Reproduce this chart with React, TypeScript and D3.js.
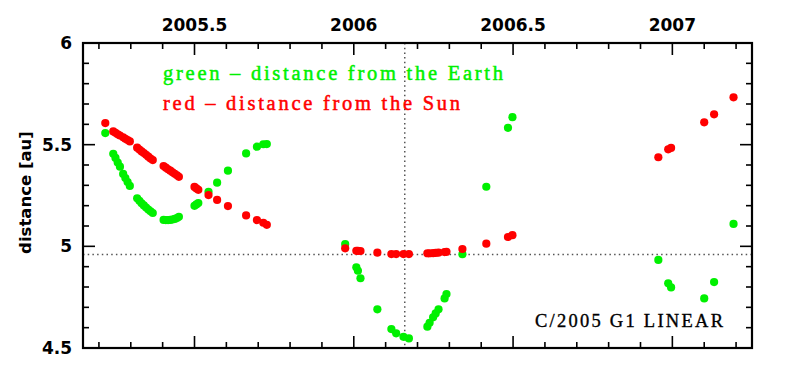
import React from "react";
import * as d3 from "d3";

const dates = [
  2005.220, 2005.245, 2005.252, 2005.259, 2005.266, 2005.276, 2005.283, 2005.290, 2005.297,
  2005.320, 2005.327, 2005.334, 2005.341, 2005.348, 2005.355, 2005.362, 2005.369,
  2005.403, 2005.410, 2005.417, 2005.424, 2005.431, 2005.438, 2005.445, 2005.451,
  2005.500, 2005.506, 2005.512, 2005.544, 2005.571, 2005.605, 2005.662, 2005.696, 2005.716, 2005.727,
  2005.973, 2006.008, 2006.013, 2006.021, 2006.074, 2006.118, 2006.133, 2006.156, 2006.173,
  2006.231, 2006.238, 2006.249, 2006.257, 2006.266, 2006.285, 2006.291,
  2006.341, 2006.416, 2006.484, 2006.498,
  2006.956, 2006.987, 2006.996, 2007.100, 2007.131, 2007.192,
];

const sunDist = [
  5.606, 5.565, 5.558, 5.551, 5.545, 5.536, 5.529, 5.523, 5.516,
  5.485, 5.476, 5.467, 5.459, 5.450, 5.441, 5.432, 5.424,
  5.395, 5.387, 5.379, 5.372, 5.364, 5.357, 5.349, 5.342,
  5.292, 5.285, 5.278, 5.252, 5.228, 5.198, 5.152, 5.129, 5.116, 5.106,
  4.990, 4.978, 4.978, 4.977, 4.969, 4.962, 4.962, 4.962, 4.962,
  4.966, 4.966, 4.967, 4.968, 4.969, 4.972, 4.973,
  4.987, 5.013, 5.046, 5.055,
  5.438, 5.477, 5.484, 5.610, 5.649, 5.733,
];

const earthDist = [
  5.557, 5.455, 5.435, 5.412, 5.392, 5.356, 5.336, 5.316, 5.297,
  5.236, 5.224, 5.212, 5.201, 5.191, 5.181, 5.172, 5.164,
  5.130, 5.129, 5.129, 5.130, 5.132, 5.135, 5.139, 5.145,
  5.199, 5.206, 5.213, 5.268, 5.313, 5.372, 5.457, 5.490, 5.502, 5.503,
  5.011, 4.897, 4.880, 4.843, 4.690, 4.593, 4.572, 4.555, 4.547,
  4.605, 4.624, 4.651, 4.670, 4.690, 4.744, 4.765,
  4.961, 5.293, 5.583, 5.635,
  4.933, 4.818, 4.798, 4.744, 4.824, 5.110,
];

const xMajorTicks = [2005.5, 2006, 2006.5, 2007];
const xMajorLabels = ["2005.5", "2006", "2006.5", "2007"];
const yMajorTicks = [4.5, 5, 5.5, 6];
const yMajorLabels = ["4.5", "5", "5.5", "6"];
const perihelionDate = 2006.16;
const perihelionDist = 4.96;

const W = 792;
const H = 380;
const L = 83, R = 752, T = 43, B = 348;

export default function App() {
  const x = d3.scaleLinear().domain([2005.15, 2007.25]).range([L, R]);
  const y = d3.scaleLinear().domain([4.5, 6]).range([B, T]);

  const xMinor = d3.range(2005.2, 2007.25, 0.1).map((v) => Math.round(v * 10) / 10);
  const yMinor = d3.range(4.6, 6.0, 0.1).map((v) => Math.round(v * 10) / 10);
  const isMajor = (v: number, arr: number[]) => arr.some((a) => Math.abs(a - v) < 1e-6);

  const majLen = 12, minLen = 6;
  const tickFont = "'DejaVu Sans', sans-serif";
  const legendFont = "'Liberation Serif', serif";
  const green = "#00f000";
  const red = "#ff0000";

  return (
    <svg width={W} height={H} style={{ position: "absolute", left: 0, top: 0, background: "#fff" }}>
      <rect x={0} y={0} width={W} height={H} fill="#fff" />
      {/* dotted reference lines */}
      <line x1={L} x2={R} y1={y(perihelionDist)} y2={y(perihelionDist)} stroke="#555" strokeWidth={1.5} strokeDasharray="1.5,3.2" />
      <line x1={x(perihelionDate)} x2={x(perihelionDate)} y1={T} y2={B} stroke="#555" strokeWidth={1.5} strokeDasharray="1.5,3.2" />

      {/* ticks */}
      <g stroke="#000" strokeWidth={1.6}>
        {xMinor.map((v) => {
          const len = isMajor(v, xMajorTicks) ? majLen : minLen;
          const px = x(v);
          return (
            <g key={"xt" + v}>
              <line x1={px} x2={px} y1={T} y2={T + len} />
              <line x1={px} x2={px} y1={B} y2={B - len} />
            </g>
          );
        })}
        {[4.5, ...yMinor, 6].map((v) => {
          const len = isMajor(v, yMajorTicks) ? majLen : minLen;
          const py = y(v);
          return (
            <g key={"yt" + v}>
              <line x1={L} x2={L + len} y1={py} y2={py} />
              <line x1={R} x2={R - len} y1={py} y2={py} />
            </g>
          );
        })}
      </g>

      {/* data: green = Earth, red = Sun */}
      <g fill={green}>
        {dates.map((d, i) => (
          <circle key={"e" + i} cx={x(d)} cy={y(earthDist[i])} r={4.1} />
        ))}
      </g>
      <g fill={red}>
        {dates.map((d, i) => (
          <circle key={"s" + i} cx={x(d)} cy={y(sunDist[i])} r={4.1} />
        ))}
      </g>

      {/* frame */}
      <rect x={L} y={T} width={R - L} height={B - T} fill="none" stroke="#000" strokeWidth={2.2} />

      {/* tick labels */}
      <g fontFamily={tickFont} fontWeight="bold" fontSize={17} fill="#000">
        {xMajorTicks.map((v, i) => (
          <text key={"xl" + v} x={x(v)} y={31} textAnchor="middle">{xMajorLabels[i]}</text>
        ))}
        {yMajorTicks.map((v, i) => (
          <text key={"yl" + v} x={72} y={y(v)} dy="0.36em" textAnchor="end">{yMajorLabels[i]}</text>
        ))}
        <text transform={`translate(31,${(T + B) / 2 - 3}) rotate(-90)`} textAnchor="middle" fontSize={16.5}>distance [au]</text>
      </g>

      {/* legend */}
      <g fontFamily={legendFont} fontSize={20.5} strokeWidth={0.5}>
        <text x={163} y={80} fill={green} stroke={green} textLength={340} lengthAdjust="spacing">green – distance from the Earth</text>
        <text x={163} y={110} fill={red} stroke={red} textLength={297} lengthAdjust="spacing">red – distance from the Sun</text>
        <text x={535} y={327} fill="#000" stroke="#000" strokeWidth={0.35} fontSize={18.5} textLength={188} lengthAdjust="spacing">C/2005 G1 LINEAR</text>
      </g>
    </svg>
  );
}
